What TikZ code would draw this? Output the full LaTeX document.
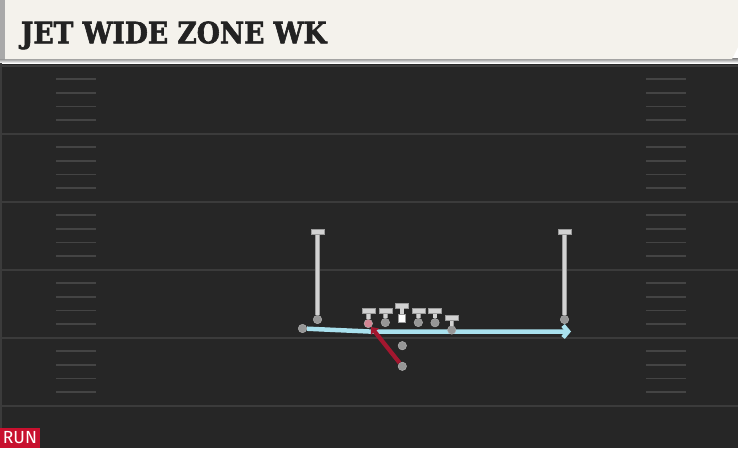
\documentclass[tikz,border=0pt]{standalone}
\usepackage{fontspec}
\newfontfamily\titlefont[FakeStretch=0.9,FakeBold=2]{DejaVu Serif}
\newfontfamily\tagfont{Fira Sans}
\usetikzlibrary{arrows.meta,backgrounds}
\definecolor{field}{HTML}{262626}
\definecolor{shade}{HTML}{121212}
\definecolor{yardline}{HTML}{3B3B3B}
\definecolor{hashline}{HTML}{444444}
\definecolor{cream}{HTML}{F4F2EC}
\definecolor{strip}{HTML}{A9A9A9}
\definecolor{ink}{HTML}{222222}
\definecolor{barfill}{HTML}{D2D2D2}
\definecolor{barline}{HTML}{9A9A9A}
\definecolor{dotfill}{HTML}{969696}
\definecolor{dotline}{HTML}{B4B4B4}
\definecolor{jetblue}{HTML}{A9E1EE}
\definecolor{runred}{HTML}{A3172F}
\definecolor{tagred}{HTML}{C8102E}
\definecolor{pinkdot}{HTML}{D38593}
\begin{document}
\begin{tikzpicture}[x=1pt,y=-1pt]
\tikzstyle{bar}=[draw=barline, fill=barfill, rectangle, inner sep=0pt, minimum width=13pt, minimum height=5pt]
\tikzstyle{dot}=[draw=dotline, fill=dotfill, circle, inner sep=0pt, minimum size=8.5pt]
\tikzstyle{stem}=[draw=barline, double=barfill, double distance=3.4pt, line width=0.5pt]
\tikzstyle{yard}=[draw=yardline, line width=2pt]
\tikzstyle{hash}=[draw=hashline, line width=1.6pt]
\tikzstyle{jet}=[draw=jetblue, line width=4.5pt, -{Straight Barb[length=5pt,width=12pt]}]
\tikzstyle{handoff}=[draw=runred, line width=4.2pt, -{Triangle[length=6pt,width=10pt]}]
\useasboundingbox (0,0) rectangle (738,448);

% header
\fill[cream] (5,0) -- (738,0) -- (738,47) -- (732,59) -- (5,59) -- cycle;
\fill[strip] (0,0) rectangle (5,59);
\node[anchor=base west, inner sep=0pt, text=ink,
      font=\titlefont\bfseries\fontsize{29.5}{30}\selectfont] (title) at (20.7,43.3) {JET WIDE ZONE WK};

% receivers
\node[bar] (LWRbar) at (317.5,232) {};
\node[dot] (LWR)    at (317.5,319.5) {};
\node[bar] (RWRbar) at (564.5,232) {};
\node[dot] (RWR)    at (564.5,319.5) {};
\node[dot] (JET)    at (302.5,328.5) {};

% line
\node[bar] (LTbar) at (368.3,311) {};
\node[dot, fill=pinkdot] (LT) at (368.3,323.5) {};
\node[bar] (LGbar) at (385.3,311) {};
\node[dot] (LG)    at (385.3,322.5) {};
\node[bar] (Cbar)  at (401.8,305.6) {};
\node[draw=barline, fill=white, rectangle, inner sep=0pt, minimum size=7.5pt] (C) at (401.8,318.3) {};
\node[bar] (RGbar) at (418.3,311) {};
\node[dot] (RG)    at (418.3,322.5) {};
\node[bar] (RTbar) at (435,311) {};
\node[dot] (RT)    at (435,322.7) {};
\node[bar] (TEbar) at (451.7,318) {};
\node[dot] (TE)    at (451.7,330) {};

% backfield
\node[dot] (QB) at (402.3,345.7) {};
\node[dot] (RB) at (402.3,366.3) {};

\coordinate (mesh)   at (369,331.5);
\coordinate (jetEnd) at (571,331.5);

\foreach \p in {LWR,RWR,LT,LG,C,RG,RT,TE}
    \draw[stem] (\p bar) -- (\p);

\draw[handoff] (RB) -- (LT);

\begin{pgfonlayer}{background}
\fill[field] (0,59) rectangle (738,448);
\fill[shade] (0,58) rectangle (738,63);
\draw[yardline, line width=1.5pt] (1,63) -- (1,448);
\foreach \y in {65.5,133.5,201.5,269.5,337.5,406}
    \draw[yard] (0,\y) -- (738,\y);
\foreach \y in {65.5,133.5,201.5,269.5,337.5}
    \foreach \k in {1,...,4} {
        \draw[hash] (56,{\y+13.6*\k}) -- (96,{\y+13.6*\k});
        \draw[hash] (646,{\y+13.6*\k}) -- (686,{\y+13.6*\k});
    }
\draw[jet] (JET) -- (mesh) -- (jetEnd);
\end{pgfonlayer}

% play type
\node[fill=tagred, text=white, inner sep=0pt, minimum width=40pt, minimum height=20pt,
      font=\tagfont\fontsize{17.5}{17.5}\selectfont] (tag) at (20,438) {RUN};
\end{tikzpicture}
\end{document}
